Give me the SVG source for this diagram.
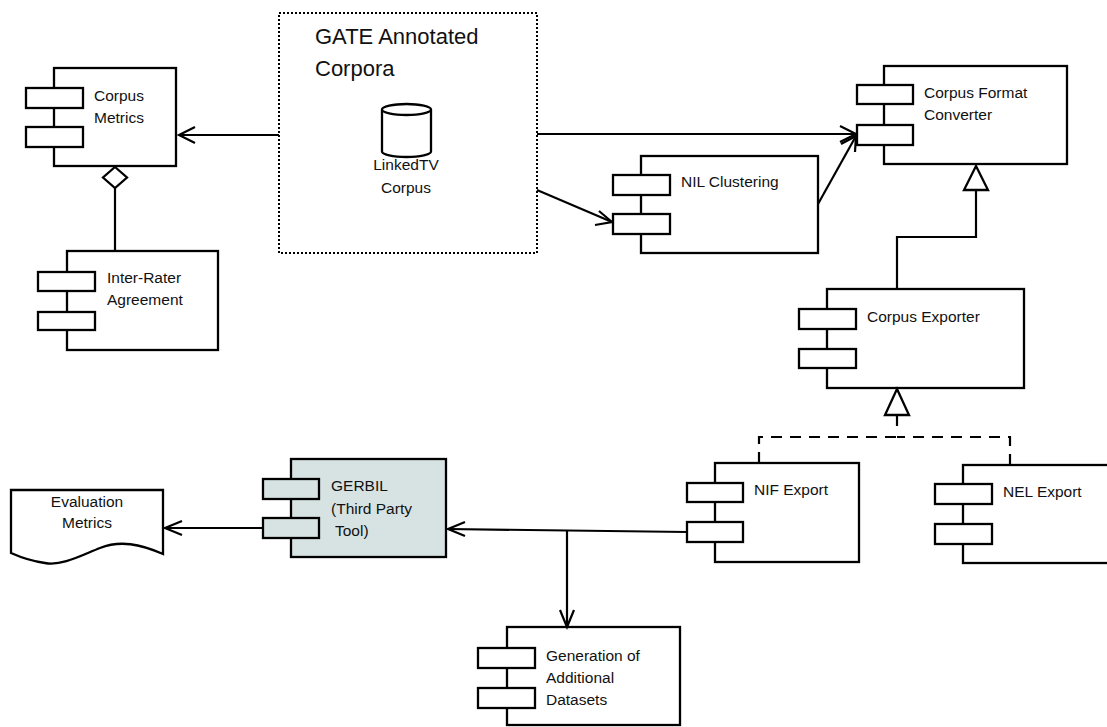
<svg xmlns="http://www.w3.org/2000/svg" width="1107" height="727" viewBox="0 0 1107 727">
<style>
.b{fill:#fff;stroke:#000;stroke-width:2.3}
.g{fill:#d7e3e3;stroke:#000;stroke-width:2.3}
.t{font-family:"Liberation Sans",Arial,sans-serif;font-size:15.5px;fill:#111}
.big{font-size:22px}
.ln{fill:none;stroke:#000;stroke-width:2.2}
.dash{stroke-dasharray:11 8}
.dot{fill:none;stroke:#000;stroke-width:2;stroke-dasharray:2 2}
</style>
<rect width="1107" height="727" fill="#fff"/>

<g id="gate-corpora">
<rect class="dot" x="279" y="13" width="258" height="240"/>
<text class="t big" x="315" y="44">GATE Annotated</text>
<text class="t big" x="315" y="76">Corpora</text>
<path class="b" d="M382,109.5 V151.5 A24.5,5.5 0 0 0 431,151.5 V109.5"/>
<ellipse class="b" cx="406.5" cy="109.5" rx="24.5" ry="5.5"/>
<text class="t" x="406" y="170" text-anchor="middle">LinkedTV</text>
<text class="t" x="406" y="193" text-anchor="middle">Corpus</text>
</g>

<g id="corpus-metrics">
<rect class="b" x="54" y="68" width="122" height="98"/>
<rect class="b" x="26" y="88" width="57" height="20"/>
<rect class="b" x="26" y="127" width="57" height="20"/>
<text class="t" x="94" y="101">Corpus</text>
<text class="t" x="94" y="123">Metrics</text>
</g>

<g id="inter-rater">
<rect class="b" x="67" y="251" width="151" height="99"/>
<rect class="b" x="38" y="272" width="57" height="19"/>
<rect class="b" x="38" y="312" width="57" height="18"/>
<text class="t" x="107" y="283">Inter-Rater</text>
<text class="t" x="107" y="305">Agreement</text>
</g>

<g id="corpus-format-converter">
<rect class="b" x="884" y="66" width="183" height="98"/>
<rect class="b" x="857" y="85" width="56" height="19"/>
<rect class="b" x="857" y="125" width="56" height="20"/>
<text class="t" x="924" y="98">Corpus Format</text>
<text class="t" x="924" y="120">Converter</text>
</g>

<g id="nil-clustering">
<rect class="b" x="641" y="156" width="177" height="97"/>
<rect class="b" x="613" y="175" width="57" height="20"/>
<rect class="b" x="613" y="214" width="57" height="20"/>
<text class="t" x="681" y="187">NIL Clustering</text>
</g>

<g id="corpus-exporter">
<rect class="b" x="827" y="289" width="197" height="99"/>
<rect class="b" x="799" y="309" width="57" height="20"/>
<rect class="b" x="799" y="349" width="57" height="19"/>
<text class="t" x="867" y="322">Corpus Exporter</text>
</g>

<g id="nif-export">
<rect class="b" x="715" y="463" width="144" height="99"/>
<rect class="b" x="687" y="483" width="56" height="19"/>
<rect class="b" x="687" y="522" width="56" height="20"/>
<text class="t" x="754" y="495">NIF Export</text>
</g>

<g id="nel-export">
<rect class="b" x="963" y="465" width="160" height="98"/>
<rect class="b" x="935" y="484" width="57" height="20"/>
<rect class="b" x="935" y="524" width="57" height="20"/>
<text class="t" x="1003" y="497">NEL Export</text>
</g>

<g id="gerbil">
<rect class="g" x="291" y="459" width="155" height="98"/>
<rect class="g" x="263" y="479" width="56" height="20"/>
<rect class="g" x="263" y="518" width="56" height="20"/>
<text class="t" x="331" y="491">GERBIL</text>
<text class="t" x="331" y="514">(Third Party</text>
<text class="t" x="335" y="536">Tool)</text>
</g>

<g id="evaluation-metrics">
<path class="b" d="M11,490 H163 V554 C140,544 120,540 100,548 C80,556 62,566 45,563 C30,561 20,557 11,553 Z"/>
<text class="t" x="87" y="507" text-anchor="middle">Evaluation</text>
<text class="t" x="87" y="528" text-anchor="middle">Metrics</text>
</g>

<g id="generation-datasets">
<rect class="b" x="507" y="627" width="173" height="98"/>
<rect class="b" x="478" y="648" width="57" height="20"/>
<rect class="b" x="478" y="688" width="57" height="20"/>
<text class="t" x="546" y="661">Generation of</text>
<text class="t" x="546" y="683">Additional</text>
<text class="t" x="546" y="705">Datasets</text>
</g>

<g id="connectors">
<path class="ln" d="M279,135 H179"/>
<path class="ln" d="M195,127 L179,135 L195,143"/>
<path class="ln" d="M115,188 V251"/>
<path class="b" d="M115,167 L127,177.5 L115,188 L103,177.5 Z"/>
<path class="ln" d="M537,134 H856"/>
<path class="ln" d="M840,126 L856,134 L840,142"/>
<path class="ln" d="M537,190 L612,222"/>
<path class="ln" d="M599,211 L612,222 L595,225"/>
<path class="ln" d="M818,204 L856,136"/>
<path class="ln" d="M841,144 L856,136 L855,152"/>
<path class="ln" d="M897,289 V237 H976 V190"/>
<path class="b" d="M976,166 L988,190 L964,190 Z"/>
<path class="ln" d="M897,415 V426"/>
<path class="ln dash" d="M759,463 V437 H897"/>
<path class="ln dash" d="M1010,465 V437 H897"/>
<path class="b" d="M897,389 L909,415 L885,415 Z"/>
<path class="ln" d="M687,532 L448,529"/>
<path class="ln" d="M465,522 L448,529 L465,536"/>
<path class="ln" d="M567,531 V627"/>
<path class="ln" d="M560,610 L567,627 L574,610"/>
<path class="ln" d="M263,528 H165"/>
<path class="ln" d="M182,521 L165,528 L182,535"/>
</g>
</svg>
